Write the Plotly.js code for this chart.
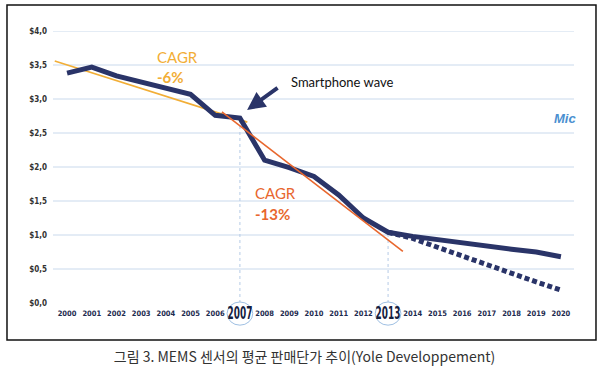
<!DOCTYPE html>
<html><head><meta charset="utf-8">
<script src="https://cdn.plot.ly/plotly-3.0.1.min.js"></script>
<style>html,body{margin:0;padding:0;background:#fff}#chart{width:609px;height:384px}</style>
</head><body><div id="chart"></div>
<script>
var years = [2000,2001,2002,2003,2004,2005,2006,2007,2008,2009,2010,2011,2012,2013,2014,2015,2016,2017,2018,2019,2020];
var price = [3.38,3.47,3.34,3.25,3.16,3.07,2.76,2.72,2.10,1.99,1.86,1.59,1.25,1.04,0.98,0.93,0.88,0.84,0.79,0.75,0.68];
var altYears = [2013,2014,2015,2016,2017,2018,2019,2020];
var altPrice = [1.04,0.95,0.82,0.69,0.56,0.435,0.31,0.19];
var cagr6X = [1999.5, 2007.3];
var cagr6Y = [3.56, 2.66];
var cagr13X = [2006.27, 2013.6];
var cagr13Y = [2.81, 0.76];
var yTicks = [0,0.5,1,1.5,2,2.5,3,3.5,4];
var yTickText = ['$0,0','$0,5','$1,0','$1,5','$2,0','$2,5','$3,0','$3,5','$4,0'];
var highlightYears = [2007, 2013];
var highlightTop = [2.72, 1.04];
var xTickText = years.map(function(y){ return highlightYears.indexOf(y) >= 0 ? '' : String(y); });

var navy = '#2a3468';
var traces = [
  {x: cagr6X, y: cagr6Y, mode:'lines', line:{color:'#F2AE36', width:1.6}, hoverinfo:'skip'},
  {x: altYears, y: altPrice, mode:'lines', line:{color:navy, width:5, dash:'5px,3px'}, hoverinfo:'skip'},
  {x: years, y: price, mode:'lines', line:{color:navy, width:5, shape:'linear'}},
  {x: cagr13X, y: cagr13Y, mode:'lines', line:{color:'#E8672E', width:1.6}, hoverinfo:'skip'}
];

var shapes = [];
yTicks.forEach(function(v){ if (v>0) shapes.push({type:'line', xref:'paper', x0:0, x1:1, yref:'y', y0:v, y1:v, line:{color:'#c9d9ec', width:1}, layer:'below'}); });
highlightYears.forEach(function(yr, i){
  shapes.push({type:'line', xref:'x', x0:yr, x1:yr, yref:'y', y0:0, y1:highlightTop[i], line:{color:'#b5cbe6', width:1, dash:'dot'}, layer:'below'});
  shapes.push({type:'circle', xref:'x', yref:'paper', x0:yr-0.52, x1:yr+0.52, y0:-0.0815, y1:0.0037, line:{color:'#9fc0e3', width:1}, fillcolor:'#ffffff', layer:'above'});
});
shapes.push({type:'rect', xref:'paper', yref:'paper', x0:-0.0883, x1:1.0422, y0:-0.136, y1:1.0956, line:{color:'#111', width:1.5}});

var annotations = [];
highlightYears.forEach(function(yr){
  annotations.push({x:yr, xref:'x', y:-0.038, yref:'paper', text:'<b>'+yr+'</b>', showarrow:false, font:{family:'DejaVu Sans Condensed, sans-serif', size:16, color:'#14203f'}, xanchor:'center', yanchor:'middle'});
});
annotations.push(
  {xref:'paper', yref:'paper', x:(155-53)/521, y:(303-57)/272, text:'CAGR', showarrow:false, xanchor:'left', yanchor:'middle', font:{family:'Lato, sans-serif', size:15, color:'#F2AE36'}},
  {xref:'paper', yref:'paper', x:(155-53)/521, y:(303-77)/272, text:'<b>-6%</b>', showarrow:false, xanchor:'left', yanchor:'middle', font:{family:'Lato, sans-serif', size:15, color:'#F2AE36'}},
  {xref:'paper', yref:'paper', x:(253-53)/521, y:(303-193)/272, text:'CAGR', showarrow:false, xanchor:'left', yanchor:'middle', font:{family:'Lato, sans-serif', size:15, color:'#E8672E'}},
  {xref:'paper', yref:'paper', x:(253-53)/521, y:(303-214)/272, text:'<b>-13%</b>', showarrow:false, xanchor:'left', yanchor:'middle', font:{family:'Lato, sans-serif', size:15, color:'#E8672E'}},
  {xref:'paper', yref:'paper', x:(289-53)/521, y:(303-82)/272, text:'Smartphone wave', showarrow:false, xanchor:'left', yanchor:'middle', font:{family:'Lato, sans-serif', size:13, color:'#111'}},
  {xref:'paper', yref:'paper', x:(578-53)/521, y:(303-118)/272, text:'<b><i>Mic</i></b>', showarrow:false, xanchor:'right', yanchor:'middle', font:{family:'Arial, sans-serif', size:13, color:'#4a8fd0'}},
  {x:2007.29, y:2.84, xref:'x', yref:'y', text:'', showarrow:true, ax:32, ay:-23, arrowcolor:navy, arrowwidth:4, arrowhead:2, arrowsize:0.9}
);

var layout = {
  width:609, height:384,
  margin:{l:53, r:35, t:31, b:81},
  paper_bgcolor:'#fff', plot_bgcolor:'#fff',
  showlegend:false,
  title:{text:'그림 3. MEMS 센서의 평균 판매단가 추이(Yole Developpement)', x:0.5, xanchor:'center', y:1-357/384, yref:'container', yanchor:'middle', font:{family:'Noto Sans CJK KR, sans-serif', size:14, color:'#333'}},
  xaxis:{range:[1999.43, 2020.53], tickvals:years, ticktext:xTickText, showgrid:false, zeroline:false, showline:false, ticks:'', ticklabelstandoff:4, tickfont:{family:'DejaVu Sans Condensed, sans-serif', size:7.5, color:'#1d2b4f', weight:'bold'}, fixedrange:true},
  yaxis:{range:[0,4], tickvals:yTicks, ticktext:yTickText, showgrid:false, zeroline:false, showline:false, ticks:'', ticklabelstandoff:5, tickfont:{family:'DejaVu Sans Condensed, sans-serif', size:8, color:'#333', weight:'bold'}, fixedrange:true},
  shapes:shapes,
  annotations:annotations
};
Plotly.newPlot('chart', traces, layout, {displayModeBar:false, staticPlot:true}).then(function(gd){
  // narrow the two highlighted year labels horizontally (condensed look)
  [0,1].forEach(function(i){
    var g = gd.querySelector('.annotation[data-index="'+i+'"] .annotation-text-g');
    if (!g) return;
    var t = g.querySelector('text');
    var bb = t.getBBox();
    var cx = bb.x + bb.width/2, cy = bb.y + bb.height/2;
    t.setAttribute('transform', 'translate('+cx+','+cy+') scale(0.62,1.05) translate('+(-cx)+','+(-cy)+')');
  });
});
</script></body></html>
